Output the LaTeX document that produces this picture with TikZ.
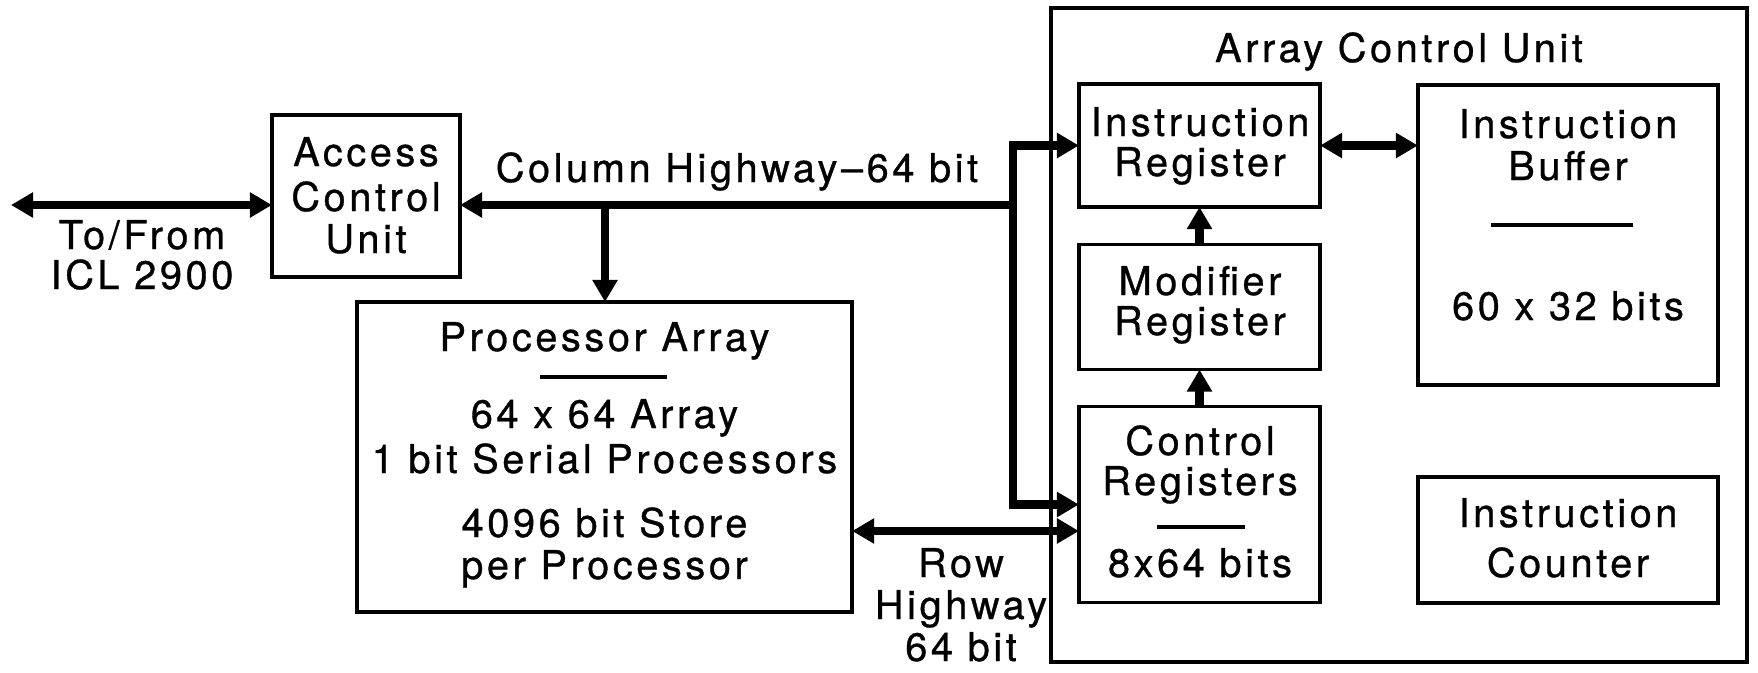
\documentclass[tikz,border=0pt]{standalone}
\usepackage{fontspec}
\setmainfont[LetterSpace=9, FakeBold=0.8]{TeX Gyre Heros}
\usetikzlibrary{arrows.meta}
\begin{document}
\begin{tikzpicture}[x=0.01cm,y=-0.01cm,
  box/.style={draw, line width=1pt, inner sep=0pt, outer sep=0pt},
  bus/.style={line width=2.5pt},
  >={Triangle[length=2.2mm,width=2.4mm]},
  txt/.style={inner sep=0pt, anchor=base, font=\fontsize{11.3}{13}\selectfont},
  sep/.style={line width=1pt}]
\useasboundingbox (0,0) rectangle (1758,672);
% boxes
\node[box, minimum width=1.88cm, minimum height=1.62cm] (acc) at (366,196) {};
\node[box, minimum width=4.95cm, minimum height=3.10cm] (pa) at (604.5,457) {};
\node[box, minimum width=6.96cm, minimum height=6.54cm] (acu) at (1399,335) {};
\node[box, minimum width=2.41cm, minimum height=1.23cm] (ir) at (1199.5,145.5) {};
\node[box, minimum width=3.00cm, minimum height=3.00cm] (ib) at (1568,235) {};
\node[box, minimum width=2.41cm, minimum height=1.25cm] (mr) at (1199.5,307) {};
\node[box, minimum width=2.41cm, minimum height=1.96cm] (cr) at (1199.5,504.5) {};
\node[box, minimum width=3.00cm, minimum height=1.26cm] (ic) at (1568,540) {};
% texts
\node[txt] (t1) at (142,249) {To/From};
\node[txt] (t2) at (142,289) {ICL 2900};
\node[txt] (a1) at (366,166) {Access};
\node[txt] (a2) at (366,211) {Control};
\node[txt] (a3) at (366,253) {Unit};
\node[txt] (ch) at (737,182) {Column Highway–64 bit};
\node[txt] (p1) at (604.5,351) {Processor Array};
\draw[sep] (540,377) -- (667,377);
\node[txt] (p2) at (604.5,428) {64 x 64 Array};
\node[txt] (p3) at (604.5,473) {1 bit Serial Processors};
\node[txt] (p4) at (604.5,537) {4096 bit Store};
\node[txt] (p5) at (604.5,579) {per Processor};
\node[txt] (r1) at (961,577) {Row};
\node[txt] (r2) at (961,619) {Highway};
\node[txt] (r3) at (961,661) {64 bit};
\node[txt] (u1) at (1399,62) {Array Control Unit};
\node[txt] (i1) at (1200,136) {Instruction};
\node[txt] (i2) at (1200,176) {Register};
\node[txt] (b1) at (1568,138) {Instruction};
\node[txt] (b2) at (1568,180) {Buffer};
\draw[sep] (1491,225) -- (1633,225);
\node[txt] (b3) at (1568,320) {60 x 32 bits};
\node[txt] (m1) at (1200,295) {Modifier};
\node[txt] (m2) at (1200,335) {Register};
\node[txt] (c1) at (1200,455) {Control};
\node[txt] (c2) at (1200,495) {Registers};
\draw[sep] (1157,527) -- (1245,527);
\node[txt] (c3) at (1200,577) {8x64 bits};
\node[txt] (n1) at (1568,527) {Instruction};
\node[txt] (n2) at (1568,577) {Counter};
% connectors
\coordinate (J) at (1013,205);
\coordinate (D) at (605,205);
\coordinate (ext) at (11,205);
\coordinate (rowy) at (0,531);
\draw[bus,<->] (ext) -- (ext -| acc.west);
\draw[bus,<->] (ir.west) -| (J) |- (cr.west);
\draw[bus,->] (J) -- (J -| acc.east);
\draw[bus,->] (D) -- (D |- pa.north);
\draw[bus,<->] (pa.east |- rowy) -- (cr.west |- rowy);
\draw[bus,<->] (ir.east) -- (ir.east -| ib.west);
\draw[bus,->] (mr.north) -- (ir.south);
\draw[bus,->] (cr.north) -- (mr.south);
\end{tikzpicture}
\end{document}
